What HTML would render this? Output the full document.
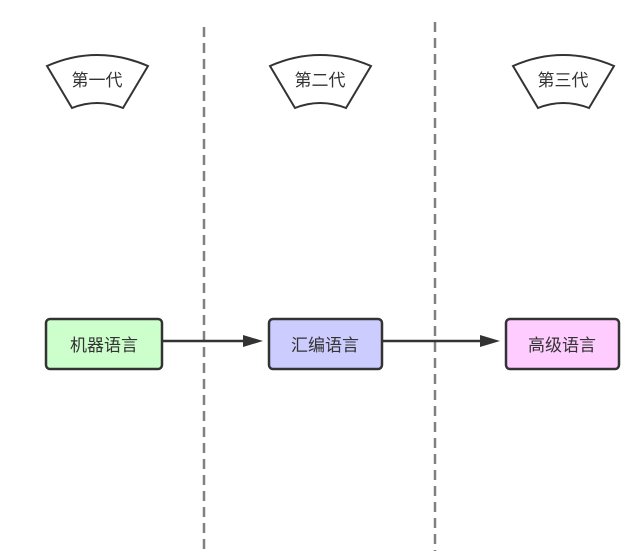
<!DOCTYPE html>
<html><head><meta charset="utf-8"><style>
html,body{margin:0;padding:0;background:#fff;}
svg{display:block}
text{font-family:"Liberation Sans","Noto Sans CJK SC",sans-serif;font-size:17px;fill:#333;}
</style></head><body>
<svg width="621" height="551" viewBox="0 0 621 551" xmlns="http://www.w3.org/2000/svg">
<defs>
<marker id="ah" markerWidth="20" markerHeight="14" refX="0" refY="7" orient="auto" markerUnits="userSpaceOnUse">
<path d="M0,1 L20,7 L0,13 Z" fill="#333"/>
</marker>
</defs>
<line x1="204" y1="27" x2="204" y2="551" stroke="#808080" stroke-width="2.5" stroke-dasharray="10,6"/>
<line x1="435" y1="22" x2="435" y2="551" stroke="#808080" stroke-width="2.5" stroke-dasharray="10,6"/>

<g fill="#fff" stroke="#333" stroke-width="2">
<path d="M47,66 Q97,44 148,66 L123,108 Q97,98 72,108 Z"/>
<path d="M270,66 Q320,44 371,66 L346,108 Q320,98 295,108 Z"/>
<path d="M513,66 Q563,44 614,66 L589,108 Q563,98 538,108 Z"/>
</g>
<text x="97" y="86" text-anchor="middle">第一代</text>
<text x="320" y="86" text-anchor="middle">第二代</text>
<text x="563" y="86" text-anchor="middle">第三代</text>

<line x1="162" y1="341" x2="243" y2="341" stroke="#333" stroke-width="2.5" marker-end="url(#ah)"/>
<line x1="383" y1="341" x2="480" y2="341" stroke="#333" stroke-width="2.5" marker-end="url(#ah)"/>

<rect x="46" y="319" width="116" height="50" rx="4" fill="#ccffcc" stroke="#333" stroke-width="2.5"/>
<rect x="269" y="319" width="113" height="50" rx="4" fill="#ccccff" stroke="#333" stroke-width="2.5"/>
<rect x="506" y="319" width="113" height="50" rx="4" fill="#ffccff" stroke="#333" stroke-width="2.5"/>
<text x="104" y="351" text-anchor="middle">机器语言</text>
<text x="325" y="351" text-anchor="middle">汇编语言</text>
<text x="562" y="351" text-anchor="middle">高级语言</text>
</svg>
</body></html>
